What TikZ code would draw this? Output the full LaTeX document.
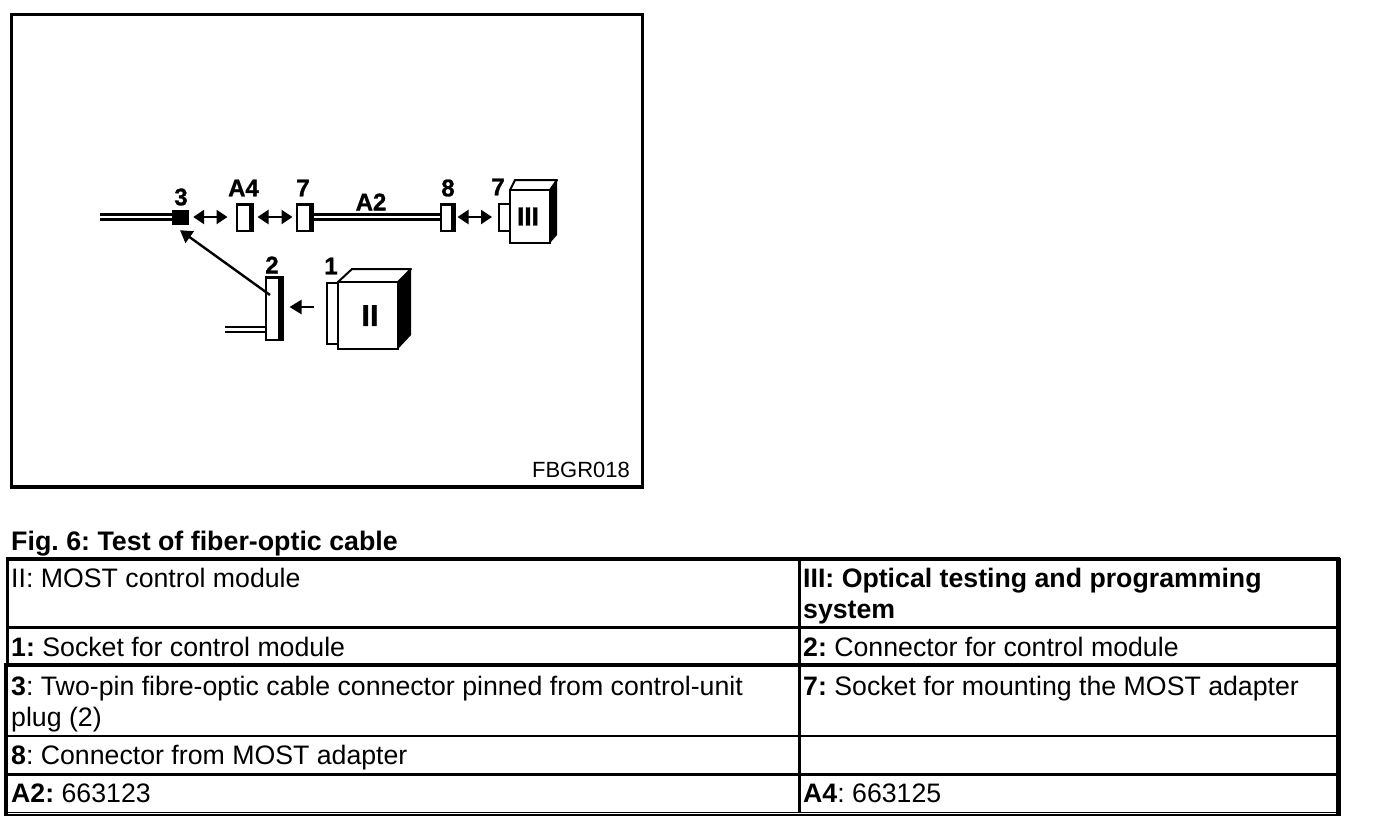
\documentclass[tikz,border=0pt]{standalone}
\usepackage{fontspec}
\setmainfont{Liberation Sans}
\newfontfamily\heavyfont[UprightFont=* Bold, FakeBold=1.2]{Liberation Sans}
\usetikzlibrary{arrows.meta}
\tikzset{
  plug/.style={draw, line width=2pt, fill=white, inner sep=0pt},
  tag/.style={font=\fontsize{24}{26}\heavyfont, inner sep=0pt},
  cable/.style={line width=2.6pt, double, double distance=2.6pt},
  arr/.style={-{Triangle[length=12pt,width=14pt]}, line width=2.4pt},
  dbl/.style={{Triangle[length=11pt,width=14pt]}-{Triangle[length=11pt,width=14pt]}, line width=2.4pt},
  cell/.style={anchor=north west, inner sep=0pt, align=left, font=\fontsize{26.7}{31}\selectfont\frenchspacing},
}
% one connector body with its heavy right and top edges
\newcommand{\plugbox}[6]{\node[plug, minimum width=#4, minimum height=#5] (#1) at (#2,#3) {};
  \fill ([xshift=-#6]#1.north east) rectangle (#1.south east);
  \fill ([yshift=-3pt]#1.north west) rectangle (#1.north east);}
\begin{document}
\begin{tikzpicture}[x=1pt,y=-1pt]
\useasboundingbox (0,0) rectangle (1376,828);
% figure frame
\draw[line width=3.4pt] (11.5,14.5) rectangle (642.5,487);
% upper test chain
\node[draw, fill=black, inner sep=0pt, minimum width=16pt, minimum height=14pt] (con3) at (180,217) {};
\node[plug, minimum width=16pt, minimum height=27pt] (sockA) at (304.5,217) {};
\node[plug, minimum width=14pt, minimum height=27pt] (con8) at (447.5,217) {};
\node[plug, minimum width=11pt, minimum height=27pt] (sockB) at (504.5,217) {};
\coordinate (cableL) at (100,217);
\draw[cable] (cableL) -- (con3);
\draw[cable] (sockA) -- (con8);
\plugbox{adptA}{244.5}{217}{16pt}{27pt}{5pt}
\plugbox{sockA}{304.5}{217}{16pt}{27pt}{5pt}
\plugbox{con8}{447.5}{217}{14pt}{27pt}{5pt}
\draw[dbl, shorten <=5pt, shorten >=8pt] (con3) -- (adptA);
\draw[dbl, shorten <=4pt, shorten >=3pt] (adptA) -- (sockA);
\draw[dbl, shorten <=2pt, shorten >=6pt] (con8) -- (sockB);
% optical tester III
\fill (550,190) -- (557,180) -- (557,235) -- (550,243) -- cycle;
\draw[line width=2pt, line join=round] (510,190) -- (515,180) -- (557,180) -- (550,190);
\node[draw, line width=2pt, fill=white, inner sep=0pt, minimum width=40pt, minimum height=53pt,
  font=\fontsize{26}{26}\heavyfont] (modIII) at (530,216.5) {\hspace*{-4pt}III};
% control module II
\node[plug, minimum width=11pt, minimum height=61pt] (sockC) at (332.5,313.5) {};
\fill (398,282) -- (411,269) -- (411,335) -- (398,349) -- cycle;
\draw[line width=2pt, line join=round] (338,282) -- (352,269) -- (411,269) -- (398,282);
\node[draw, line width=2pt, fill=white, inner sep=0pt, minimum width=60pt, minimum height=67pt,
  font=\fontsize{30}{30}\heavyfont] (modII) at (368,315.5) {\hspace*{4pt}II};
% plug 2 with its cable
\coordinate (cableB) at (225,329.5);
\plugbox{con2}{274}{308.5}{17pt}{63pt}{6pt}
\draw[cable] (cableB) -- (cableB -| con2.west);
\coordinate (tap) at (270,295);
\draw[arr] (tap) -- ([yshift=-6pt]con3.south);
\draw[arr, shorten <=12pt, shorten >=6pt] ([yshift=6.5pt]sockC.west) -- ([yshift=6.5pt]sockC.west -| con2.east);
% labels on the drawing
\node[tag] (lab3) at (181,197) {3};
\node[tag] (labA4) at (243.5,188) {A4};
\node[tag] (lab7) at (303,188) {7};
\node[tag] (labA2) at (371,202) {A2};
\node[tag] (lab8) at (448,188) {8};
\node[tag] (lab7b) at (498,187) {7};
\node[tag] (lab2) at (272,265) {2};
\node[tag] (lab1) at (331,266) {1};
\node[font=\fontsize{22}{24}\selectfont, inner sep=0pt] (refcode) at (581,470) {FBGR018};
% caption
\node[anchor=base west, inner sep=0pt, font=\fontsize{26.8}{30}\selectfont\bfseries\frenchspacing] (caption) at (11,550) {Fig. 6: Test of fiber-optic cable};
% table rules
\draw[line width=2.6pt] (7,627.5) -- (1339,627.5);
\draw[line width=4pt] (4,665) -- (1339,665);
\draw[line width=2.6pt] (6,736) -- (1339,736);
\draw[line width=3.6pt] (6,774.5) -- (1339,774.5);
\draw[line width=3.6pt] (799.5,558) -- (799.5,813);
\draw[line width=4pt] (6,559) -- (1340,559);
\draw[line width=3.4pt] (7.5,558) -- (7.5,665);
\draw[line width=3.4pt] (5.8,663) -- (5.8,815.5);
\draw[line width=4.4pt] (1338.5,557.5) -- (1338.5,815.5);
\draw[line width=1.2pt] (4,812.6) -- (1339,812.6) (4,815) -- (1339,815);
% table cells
\node[cell] (cellII) at (11,568) {II: MOST control module};
\node[cell] (cellIII) at (803,568) {\bfseries III: Optical testing and programming\\\bfseries system};
\node[cell] (cellA) at (11,637) {\textbf{1:} Socket for control module};
\node[cell] (cellB) at (803,637) {\textbf{2:} Connector for control module};
\node[cell] (cellC) at (11,676) {\textbf{3}: Two-pin fibre-optic cable connector pinned from control-unit\\plug (2)};
\node[cell] (cellD) at (803,676) {\textbf{7:} Socket for mounting the MOST adapter};
\node[cell] (cellE) at (11,745) {\textbf{8}: Connector from MOST adapter};
\node[cell] (cellF) at (11,783.5) {\textbf{A2:} 663123};
\node[cell] (cellG) at (803,783.5) {\textbf{A4}: 663125};
\end{tikzpicture}
\end{document}
